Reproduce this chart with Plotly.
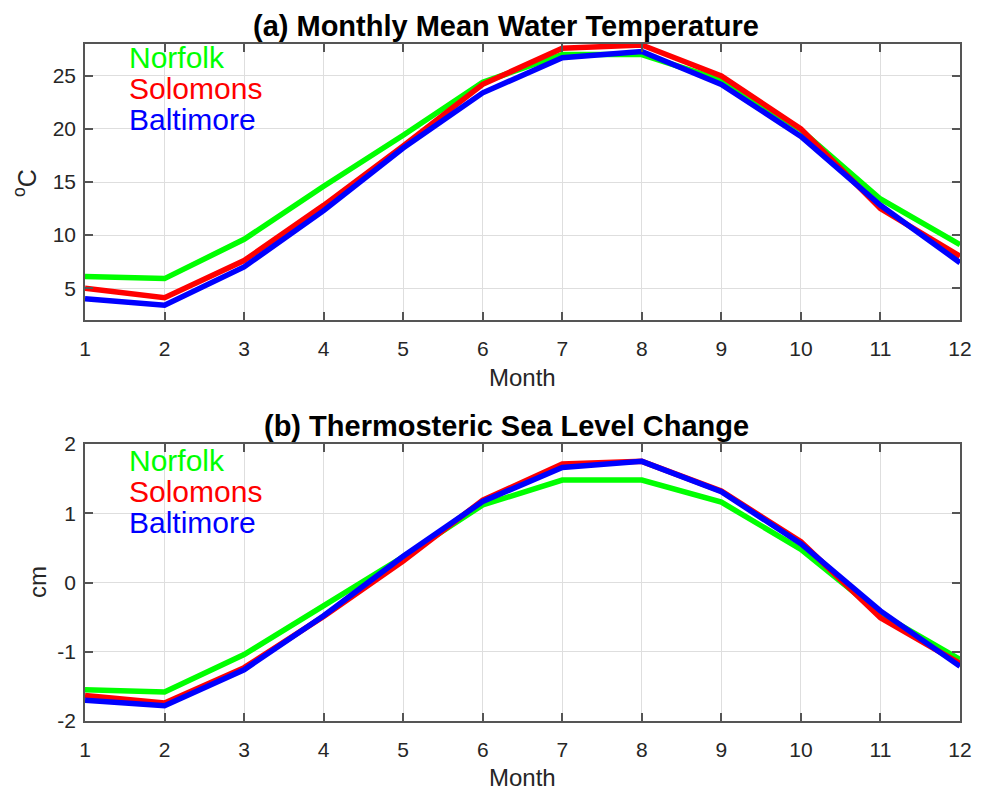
import plotly.graph_objects as go

months = list(range(1, 13))
stations = ["Norfolk", "Solomons", "Baltimore"]
colors = ["#00ff00", "#ff0000", "#0000ff"]

temp_norfolk = [6.1, 5.9, 9.6, 14.6, 19.4, 24.4, 27.0, 27.0, 24.6, 19.9, 13.4, 9.1]
temp_solomons = [5.0, 4.1, 7.6, 12.8, 18.4, 24.2, 27.6, 27.9, 25.0, 20.0, 12.5, 8.0]
temp_baltimore = [4.0, 3.4, 7.0, 12.3, 18.2, 23.4, 26.7, 27.3, 24.2, 19.3, 12.8, 7.4]

sl_norfolk = [-1.55, -1.58, -1.04, -0.34, 0.37, 1.12, 1.48, 1.48, 1.16, 0.48, -0.45, -1.11]
sl_solomons = [-1.63, -1.74, -1.23, -0.49, 0.31, 1.19, 1.71, 1.75, 1.32, 0.59, -0.51, -1.17]
sl_baltimore = [-1.70, -1.78, -1.26, -0.48, 0.38, 1.17, 1.66, 1.75, 1.31, 0.56, -0.41, -1.21]

temp_ticks = [5, 10, 15, 20, 25]
sl_ticks = [-2, -1, 0, 1, 2]
sl_ticktext = ["-2", "-1", "0", "1", "2"]

temps = [temp_norfolk, temp_solomons, temp_baltimore]
sls = [sl_norfolk, sl_solomons, sl_baltimore]

FONT = "Liberation Sans, Arial, sans-serif"
OFF = 8  # page body margin
W, H = 988 - OFF, 790 - OFF


def px(x):
    return (x - OFF) / W


def py(y):
    return 1 - (y - OFF) / H


x0, x1 = px(85), px(960)
top_dom = [py(320), py(44)]
bot_dom = [py(721), py(444)]

fig = go.Figure()
for name, c, t in zip(stations, colors, temps):
    fig.add_trace(go.Scatter(x=months, y=t, mode="lines", name=name,
                             line=dict(color=c, width=5.5), xaxis="x", yaxis="y"))
for name, c, s in zip(stations, colors, sls):
    fig.add_trace(go.Scatter(x=months, y=s, mode="lines", name=name,
                             line=dict(color=c, width=5.5), xaxis="x2", yaxis="y2"))

axis_common = dict(showline=True, linecolor="#555555", linewidth=1.5, mirror="ticks",
                   ticks="inside", ticklen=8, tickcolor="#555555", tickwidth=1.5,
                   showgrid=True, gridcolor="#dedede", gridwidth=1, zeroline=False,
                   automargin=False,
                   tickfont=dict(family=FONT, size=21, color="#262626"))

fig.update_layout(
    width=W, height=H, margin=dict(l=0, r=0, t=0, b=0, autoexpand=False),
    paper_bgcolor="white", plot_bgcolor="white", showlegend=False,
    font=dict(family=FONT, color="#262626"),
    xaxis=dict(domain=[x0, x1], range=[1, 12], tickvals=months, anchor="y",
               ticklabelstandoff=9, **axis_common),
    yaxis=dict(domain=top_dom, range=[2, 28], tickvals=temp_ticks, anchor="x",
               ticklabelstandoff=3, **axis_common),
    xaxis2=dict(domain=[x0, x1], range=[1, 12], tickvals=months, anchor="y2",
                ticklabelstandoff=9, **axis_common),
    yaxis2=dict(domain=bot_dom, range=[-2, 2], tickvals=sl_ticks, ticktext=sl_ticktext,
                anchor="x2", ticklabelstandoff=3, **axis_common),
)

# axis titles
label_font = dict(family=FONT, size=24, color="#262626")
fig.add_annotation(text="Month", xref="paper", yref="paper", x=px(522), y=py(377),
                   xanchor="center", yanchor="middle", showarrow=False, font=label_font)
fig.add_annotation(text="Month", xref="paper", yref="paper", x=px(522), y=py(777),
                   xanchor="center", yanchor="middle", showarrow=False, font=label_font)
fig.add_annotation(text="<sup>o</sup>C", xref="paper", yref="paper", x=px(25), y=py(183),
                   xanchor="center", yanchor="middle", textangle=-90, showarrow=False,
                   font=dict(family=FONT, size=25, color="#262626"))
fig.add_annotation(text="cm", xref="paper", yref="paper", x=px(37), y=py(582),
                   xanchor="center", yanchor="middle", textangle=-90, showarrow=False,
                   font=label_font)

titles = ["(a) Monthly Mean Water Temperature", "(b) Thermosteric Sea Level Change"]
offsets = [13, 16]
for ttl, dom, off in zip(titles, [top_dom, bot_dom], offsets):
    fig.add_annotation(text="<b>" + ttl + "</b>", xref="paper", yref="paper",
                       x=px(506), y=dom[1], yanchor="bottom", xanchor="center",
                       showarrow=False, yshift=0,
                       font=dict(family=FONT, size=29, color="black"))
    for j, (name, c) in enumerate(zip(stations, colors)):
        fig.add_annotation(text=name, xref="paper", yref="paper",
                           x=x0 + 42 / W, y=dom[1], xanchor="left", yanchor="middle",
                           yshift=-off - 31 * j, showarrow=False,
                           font=dict(family=FONT, size=30, color=c))

fig.write_html("out.html")
